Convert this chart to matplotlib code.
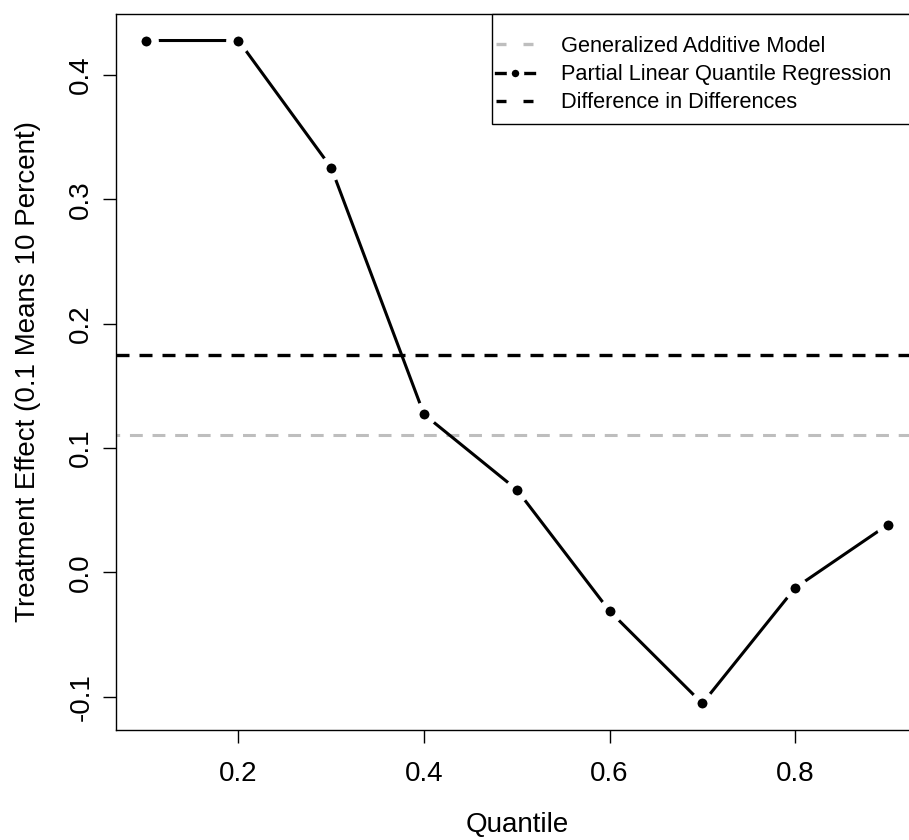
import matplotlib
matplotlib.use("Agg")
import matplotlib.pyplot as plt
from matplotlib.lines import Line2D
from matplotlib.patches import Rectangle
import numpy as np

plt.rcParams['font.family'] = ['Liberation Sans', 'DejaVu Sans']

# ---- data ----
quantiles = [0.1, 0.2, 0.3, 0.4, 0.5, 0.6, 0.7, 0.8, 0.9]
plqr_effect = [0.4276, 0.4276, 0.3253, 0.127, 0.0665, -0.0311, -0.1054, -0.0125, 0.0384]
gam_effect = 0.1106
did_effect = 0.1745
x_ticks = [0.2, 0.4, 0.6, 0.8]
y_ticks = [-0.1, 0.0, 0.1, 0.2, 0.3, 0.4]
x_ticklabels = ["0.2", "0.4", "0.6", "0.8"]
y_ticklabels = ["-0.1", "0.0", "0.1", "0.2", "0.3", "0.4"]
legend_labels = ["Generalized Additive Model",
                 "Partial Linear Quantile Regression",
                 "Difference in Differences"]
xlabel = "Quantile"
ylabel = "Treatment Effect (0.1 Means 10 Percent)"

GREY = "#BEBEBE"

fig = plt.figure(figsize=(9.09, 8.40), dpi=100)
ax = fig.add_axes([116/909, 110/840, 801.6/909, 716/840])

# R-style 4% axis extension
def rlim(v):
    lo, hi = min(v), max(v)
    r = hi - lo
    return lo - 0.04*r, hi + 0.04*r

ax.set_xlim(*rlim(quantiles))
ax.set_ylim(*rlim(plqr_effect))

# horizontal reference lines
ax.axhline(gam_effect, color=GREY, lw=2.2, linestyle=(3, (4.2, 3.2)), zorder=2)
ax.axhline(did_effect, color="black", lw=2.4, linestyle=(0, (3.9, 3.0)), zorder=2)

# type="b" line: line + points with gap
ax.plot(quantiles, plqr_effect, color="black", lw=2.2, zorder=3, solid_capstyle='butt')
ax.plot(quantiles, plqr_effect, linestyle='none', marker='o', ms=12.5,
        mfc='black', mec='white', mew=5.3, zorder=4)

# axes styling
for s in ax.spines.values():
    s.set_linewidth(1.0)
    s.set_color('black')
ax.set_xticks(x_ticks)
ax.set_xticklabels(x_ticklabels)
ax.set_yticks(y_ticks)
ax.set_yticklabels(y_ticklabels, rotation=90, va='center')
ax.tick_params(axis='both', direction='out', length=9.1, width=1.0, labelsize=20, colors='black')
ax.tick_params(axis='x', pad=13.5)
ax.tick_params(axis='y', pad=6.5)

ax.set_xlabel(xlabel, fontsize=20)
ax.set_ylabel(ylabel, fontsize=20)
ax.xaxis.set_label_coords(0.5, -0.114)
ax.yaxis.set_label_coords(-0.094, 0.5)

# legend box (R style)
box_x0 = (492 - 116) / 801.6
box_y0 = (730 - 124.3) / 716
ax.add_patch(Rectangle((box_x0, box_y0), 1.2 - box_x0, 1 - box_y0,
                       transform=ax.transAxes, facecolor='white', edgecolor='black',
                       lw=1.0, clip_on=False, zorder=5))

handles = [
    Line2D([], [], color=GREY, lw=2.4, linestyle=(0, (3.0, 5.1))),
    Line2D([], [], color='black', lw=2.4, marker='o', ms=9, mfc='black', mec='white', mew=3.6),
    Line2D([], [], color='black', lw=2.4, linestyle=(0, (3.0, 5.1))),
]
leg = ax.legend(handles, legend_labels, loc='upper left',
                bbox_to_anchor=((496 - 116) / 801.6, (730 - 36) / 716),
                frameon=False, fontsize=15.7, borderpad=0, borderaxespad=0,
                handlelength=1.76, handletextpad=1.2, labelspacing=0.33)
leg.set_zorder(6)

fig.savefig("out.png", dpi=100)
